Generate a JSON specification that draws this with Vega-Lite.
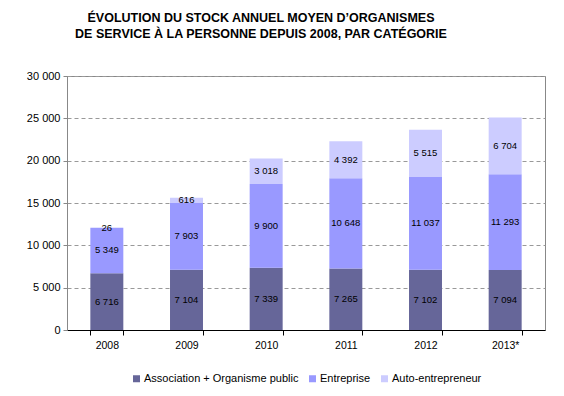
{
  "$schema": "https://vega.github.io/schema/vega-lite/v6.json",
  "width": 478,
  "height": 254,
  "autosize": {"type": "none"},
  "padding": {"left": 67, "top": 76, "right": 19, "bottom": 66},
  "title": {
    "text": ["ÉVOLUTION DU STOCK ANNUEL MOYEN D’ORGANISMES", "DE SERVICE À LA PERSONNE DEPUIS 2008, PAR CATÉGORIE"],
    "anchor": "middle",
    "dx": -45,
    "offset": 30,
    "fontSize": 12.5,
    "font": "Liberation Sans",
    "fontWeight": "bold",
    "color": "#000000",
    "lineHeight": 16
  },
  "data": {
    "values": [
      {"year": "2008", "cat": "Association + Organisme public", "ord": 1, "value": 6716},
      {"year": "2008", "cat": "Entreprise", "ord": 2, "value": 5349},
      {"year": "2008", "cat": "Auto-entrepreneur", "ord": 3, "value": 26},
      {"year": "2009", "cat": "Association + Organisme public", "ord": 1, "value": 7104},
      {"year": "2009", "cat": "Entreprise", "ord": 2, "value": 7903},
      {"year": "2009", "cat": "Auto-entrepreneur", "ord": 3, "value": 616},
      {"year": "2010", "cat": "Association + Organisme public", "ord": 1, "value": 7339},
      {"year": "2010", "cat": "Entreprise", "ord": 2, "value": 9900},
      {"year": "2010", "cat": "Auto-entrepreneur", "ord": 3, "value": 3018},
      {"year": "2011", "cat": "Association + Organisme public", "ord": 1, "value": 7265},
      {"year": "2011", "cat": "Entreprise", "ord": 2, "value": 10648},
      {"year": "2011", "cat": "Auto-entrepreneur", "ord": 3, "value": 4392},
      {"year": "2012", "cat": "Association + Organisme public", "ord": 1, "value": 7102},
      {"year": "2012", "cat": "Entreprise", "ord": 2, "value": 11037},
      {"year": "2012", "cat": "Auto-entrepreneur", "ord": 3, "value": 5515},
      {"year": "2013*", "cat": "Association + Organisme public", "ord": 1, "value": 7094},
      {"year": "2013*", "cat": "Entreprise", "ord": 2, "value": 11293},
      {"year": "2013*", "cat": "Auto-entrepreneur", "ord": 3, "value": 6704}
    ]
  },
  "transform": [
    {"stack": "value", "groupby": ["year"], "sort": [{"field": "ord", "order": "ascending"}], "as": ["v0", "v1"]},
    {"calculate": "(datum.v0 + datum.v1) / 2", "as": "mid"}
  ],
  "layer": [
    {
      "mark": {"type": "bar"},
      "encoding": {
        "x": {
          "field": "year", "type": "nominal", "sort": null,
          "scale": {"paddingInner": 0.586, "paddingOuter": 0.293},
          "axis": {
            "title": null, "labelAngle": 0, "tickBand": "extent", "domainColor": "#000000",
            "tickColor": "#000000", "tickSize": 5, "labelPadding": 5, "labelFontSize": 10.5,
            "labelFont": "Liberation Sans", "labelColor": "#000000", "grid": false
          }
        },
        "y": {
          "field": "v0", "type": "quantitative",
          "scale": {"domain": [0, 30000], "nice": false},
          "axis": {
            "title": null, "values": [0, 5000, 10000, 15000, 20000, 25000, 30000],
            "format": ",d", "domainColor": "#888888", "tickColor": "#888888", "tickSize": 4,
            "labelPadding": 3, "labelFontSize": 11, "labelFont": "Liberation Sans", "labelColor": "#000000",
            "grid": true, "gridColor": "#999999", "gridDash": [4, 3], "gridWidth": 1
          }
        },
        "y2": {"field": "v1"},
        "color": {
          "field": "cat", "type": "nominal",
          "scale": {
            "domain": ["Association + Organisme public", "Entreprise", "Auto-entrepreneur"],
            "range": ["#666699", "#9999FF", "#CCCCFF"]
          },
          "legend": {
            "title": null, "orient": "none", "legendX": 64, "legendY": 297, "direction": "horizontal", "symbolType": "square",
            "symbolSize": 49, "symbolStrokeWidth": 0, "labelFontSize": 11, "labelFont": "Liberation Sans",
            "labelColor": "#000000", "columnPadding": 8, "symbolOffset": 0, "labelOffset": 2
          }
        }
      }
    },
    {
      "mark": {"type": "text", "fontSize": 9.5, "font": "Liberation Sans", "color": "#000000", "baseline": "middle"},
      "encoding": {
        "x": {"field": "year", "type": "nominal", "sort": null},
        "y": {"field": "mid", "type": "quantitative"},
        "text": {"field": "value", "type": "quantitative", "format": ",d"}
      }
    }
  ],
  "config": {
    "locale": {"number": {"decimal": ",", "thousands": " ", "grouping": [3], "currency": ["", " €"]}},
    "view": {"stroke": "#888888"},
    "background": "#ffffff"
  }
}
